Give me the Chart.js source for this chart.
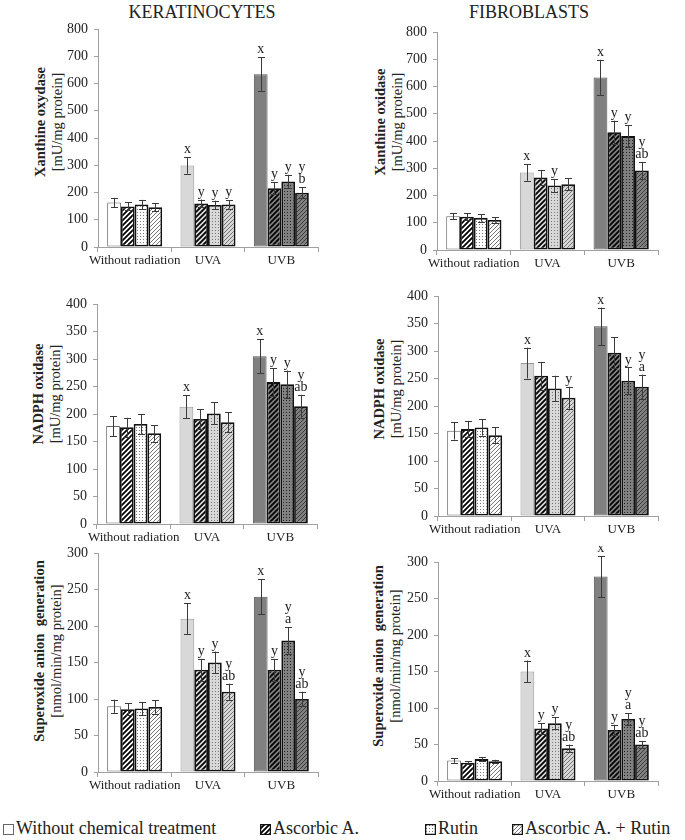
<!DOCTYPE html>
<html lang="en">
<head>
    <meta charset="UTF-8">
    <title>Oxidative enzymes - keratinocytes and fibroblasts</title>
    <script src="https://cdn.jsdelivr.net/npm/chart.js@4.4.1/dist/chart.umd.min.js"></script>
    <style>
        body { margin: 0; background: #fff; width: 685px; height: 840px; position: relative; overflow: hidden;
               font-family: "Liberation Serif", "Times New Roman", serif; color: #222; }
        canvas.panel { position: absolute; }
        .colTitle { position: absolute; top: 1px; font-size: 18px; line-height: 22px; transform: translateX(-50%); white-space: nowrap; }
        .yTitle { position: absolute; transform: translate(-50%, -50%) rotate(-90deg); text-align: center;
                  font-size: 14.5px; line-height: 17px; white-space: nowrap; }
        .yTitle b { display: block; }
        .legendItem { position: absolute; top: 818px; font-size: 18px; line-height: 20px; white-space: nowrap; }
        .legendItem canvas { vertical-align: -1px; margin-right: 2px; }
    </style>
</head>
<body>

    <div class="colTitle" style="left:202px">KERATINOCYTES</div>
    <div class="colTitle" style="left:529px">FIBROBLASTS</div>

    <div class="yTitle" style="left:49px; top:122px"><b>Xanthine oxydase</b>[mU/mg protein]</div>
    <div class="yTitle" style="left:389px; top:122px"><b>Xanthine oxidase</b>[mU/mg protein]</div>
    <div class="yTitle" style="left:47px; top:394px"><b>NADPH oxidase</b>[mU/mg protein]</div>
    <div class="yTitle" style="left:388px; top:389px"><b>NADPH oxidase</b>[mU/mg protein]</div>
    <div class="yTitle" style="left:48px; top:651px"><b>Superoxide anion&nbsp; generation</b>[nmol/min/mg protein]</div>
    <div class="yTitle" style="left:387px; top:656px"><b>Superoxide anion&nbsp; generation</b>[nmol/min/mg protein]</div>

    <canvas class="panel" id="keraXo"></canvas>
    <canvas class="panel" id="fibroXo"></canvas>
    <canvas class="panel" id="keraNadph"></canvas>
    <canvas class="panel" id="fibroNadph"></canvas>
    <canvas class="panel" id="keraSup"></canvas>
    <canvas class="panel" id="fibroSup"></canvas>

    <div id="legend"></div>

    <script>
        // categories and treatments
        const groups = ['Without radiation', 'UVA', 'UVB'];
        const treatments = ['Without chemical treatment', 'Ascorbic A.', 'Rutin', 'Ascorbic A. + Rutin'];

        // values: one row per treatment, one column per radiation group
        const keraXoMean = [[163, 299, 634], [149, 160, 216], [156, 154, 240], [146, 156, 199]];
        const keraXoErr  = [[17, 30, 63], [15, 14, 22], [17, 16, 25], [15, 15, 20]];
        const keraXoSig  = [['', 'x', 'x'], ['', 'y', 'y'], ['', 'y', 'y'], ['', 'y', 'y\nb']];

        const fibroXoMean = [[124, 284, 633], [122, 266, 432], [118, 237, 418], [110, 241, 292]];
        const fibroXoErr  = [[12, 30, 65], [12, 27, 43], [14, 24, 40], [10, 22, 30]];
        const fibroXoSig  = [['', 'x', 'x'], ['', '', 'y'], ['', 'y', 'y'], ['', '', 'y\nab']];

        const keraNadphMean = [[178, 213, 305], [176, 191, 258], [182, 201, 254], [165, 185, 214]];
        const keraNadphErr  = [[18, 21, 31], [17, 18, 25], [18, 20, 25], [15, 18, 21]];
        const keraNadphSig  = [['', 'x', 'x'], ['', '', 'y'], ['', '', 'y'], ['', '', 'y\nab']];

        const fibroNadphMean = [[155, 278, 345], [158, 255, 297], [161, 232, 246], [147, 215, 235]];
        const fibroNadphErr  = [[16, 28, 34], [15, 25, 28], [15, 23, 24], [14, 20, 22]];
        const fibroNadphSig  = [['', 'x', 'x'], ['', '', ''], ['', '', 'y'], ['', 'y', 'y\na']];

        const keraSupMean = [[90, 210, 240], [86, 140, 140], [87, 150, 180], [89, 110, 100]];
        const keraSupErr  = [[9, 21, 24], [8, 15, 15], [9, 15, 18], [9, 11, 10]];
        const keraSupSig  = [['', 'x', 'x'], ['', 'y', 'y'], ['', 'y', 'y\na'], ['', 'y\nab', 'y\nab']];

        const fibroSupMean = [[28, 150, 280], [25, 72, 70], [30, 79, 85], [27, 45, 50]];
        const fibroSupErr  = [[3, 15, 28], [2, 7, 7], [3, 8, 8], [2, 5, 5]];
        const fibroSupSig  = [['', 'x', 'x'], ['', 'y', 'y'], ['', 'y', 'y\na'], ['', 'y\nab', 'y\nab']];

        // axis ranges
        const xoTicks = { max: 800, step: 100 };
        const nadphTicks = { max: 400, step: 50 };
        const supTicks = { max: 300, step: 50 };

        const groupFill = ['#ffffff', '#d8d8d8', '#808080'];
        const serif = '"Liberation Serif", "Times New Roman", serif';

        // hatch / dot fills drawn on a small tile
        function makeTile(kind, bg, dark) {
            var s = kind === 'dots' ? 3 : (kind === 'bold' ? 5 : 4);
            var c = document.createElement('canvas');
            c.width = c.height = s;
            var g = c.getContext('2d');
            g.fillStyle = bg;
            g.fillRect(0, 0, s, s);
            if (kind === 'dots') {
                g.fillStyle = dark ? '#222' : '#777';
                g.fillRect(1, 1, 1, 1);
            } else {
                g.strokeStyle = kind === 'bold' ? '#000' : (dark ? '#333' : '#666');
                g.lineWidth = kind === 'bold' ? 1.8 : 0.9;
                g.beginPath();
                g.moveTo(-1, s + 1); g.lineTo(s + 1, -1);
                g.moveTo(-1, 1); g.lineTo(1, -1);
                g.moveTo(s - 1, s + 1); g.lineTo(s + 1, s - 1);
                g.stroke();
            }
            return c;
        }

        function fillFor(t, gi, ctx) {
            if (t === 0) return groupFill[gi];
            var kind = ['', 'bold', 'dots', 'thin'][t];
            return ctx.createPattern(makeTile(kind, groupFill[gi], gi === 2), 'repeat');
        }

        // error bars and significance letters
        function errorPlugin(errs, sigs) {
            return {
                id: 'errs',
                afterDatasetsDraw(chart) {
                    var ctx = chart.ctx, y = chart.scales.y;
                    ctx.save();
                    chart.data.datasets.forEach(function (ds, i) {
                        var meta = chart.getDatasetMeta(i);
                        meta.data.forEach(function (bar, j) {
                            var v = ds.data[j], e = errs[i][j];
                            var top = y.getPixelForValue(v + e), bot = y.getPixelForValue(v - e);
                            var x = Math.round(bar.x) + 0.5;
                            ctx.strokeStyle = '#3a3a3a';
                            ctx.lineWidth = 1;
                            ctx.beginPath();
                            ctx.moveTo(x, top); ctx.lineTo(x, bot);
                            ctx.moveTo(x - 3.5, Math.round(top) + 0.5); ctx.lineTo(x + 3.5, Math.round(top) + 0.5);
                            ctx.moveTo(x - 3.5, Math.round(bot) + 0.5); ctx.lineTo(x + 3.5, Math.round(bot) + 0.5);
                            ctx.stroke();
                            var lines = sigs[i][j] ? sigs[i][j].split('\n') : [];
                            ctx.fillStyle = '#222';
                            ctx.font = '14px ' + serif;
                            ctx.textAlign = 'center';
                            ctx.textBaseline = 'alphabetic';
                            for (var k = 0; k < lines.length; k++) {
                                var base = top - 4 - (lines.length - 1 - k) * 12;
                                ctx.fillText(lines[k], bar.x, base);
                            }
                        });
                    });
                    ctx.restore();
                }
            };
        }

        // axisX, xEnd, top of scale, zero line (page pixels)
        function makePanel(id, box, means, errs, sigs, range) {
            var el = document.getElementById(id);
            var left = box[0] - 58, top = box[2] - 16;
            var w = box[1] - left + 8, h = box[3] - top + 24;
            el.width = w; el.height = h;
            el.style.left = left + 'px'; el.style.top = top + 'px';
            var ctx = el.getContext('2d');

            var datasets = treatments.map(function (name, t) {
                return {
                    label: name,
                    data: means[t],
                    backgroundColor: groups.map(function (g, gi) { return fillFor(t, gi, ctx); }),
                    borderColor: t === 0 ? ['#666', '#999', '#555'] : '#111',
                    borderWidth: t === 0 ? 1 : 1.8,
                    borderSkipped: false,
                    categoryPercentage: 0.75,
                    barPercentage: 1
                };
            });

            new Chart(ctx, {
                type: 'bar',
                data: { labels: groups, datasets: datasets },
                options: {
                    responsive: false,
                    animation: false,
                    layout: { padding: { top: 16, right: 8, left: 0, bottom: 0 } },
                    plugins: { legend: { display: false }, tooltip: { enabled: false } },
                    scales: {
                        x: {
                            afterFit: function (s) { s.height = 24; },
                            grid: { drawOnChartArea: false, tickLength: 5, color: '#a0a0a0', offset: true },
                            border: { color: '#a0a0a0' },
                            ticks: { color: '#222', font: { family: serif, size: 13 }, padding: 1, maxRotation: 0, autoSkip: false }
                        },
                        y: {
                            min: 0, max: range.max,
                            afterFit: function (s) { s.width = 58; },
                            grid: { drawOnChartArea: false, tickLength: 4, color: '#a0a0a0' },
                            border: { color: '#a0a0a0' },
                            ticks: { stepSize: range.step, color: '#222', font: { family: serif, size: 14 }, padding: 6 }
                        }
                    }
                },
                plugins: [errorPlugin(errs, sigs)]
            });
        }

        makePanel('keraXo', [98, 318, 29, 247], keraXoMean, keraXoErr, keraXoSig, xoTicks);
        makePanel('fibroXo', [437, 658, 32, 250], fibroXoMean, fibroXoErr, fibroXoSig, xoTicks);
        makePanel('keraNadph', [97, 317, 304, 524], keraNadphMean, keraNadphErr, keraNadphSig, nadphTicks);
        makePanel('fibroNadph', [438, 658, 296, 516], fibroNadphMean, fibroNadphErr, fibroNadphSig, nadphTicks);
        makePanel('keraSup', [98, 318, 553, 772], keraSupMean, keraSupErr, keraSupSig, supTicks);
        makePanel('fibroSup', [438, 658, 562, 781], fibroSupMean, fibroSupErr, fibroSupSig, supTicks);

        // legend along the bottom
        var legendX = [3, 260, 425, 512];
        var legend = document.getElementById('legend');
        treatments.forEach(function (name, t) {
            var item = document.createElement('div');
            item.className = 'legendItem';
            item.style.left = legendX[t] + 'px';
            var sw = document.createElement('canvas');
            sw.width = 11; sw.height = 11;
            var g = sw.getContext('2d');
            g.fillStyle = fillFor(t, 0, g);
            g.fillRect(0, 0, 11, 11);
            g.strokeStyle = t === 0 ? '#666' : '#111';
            g.lineWidth = t === 0 ? 1 : 1.5;
            g.strokeRect(0.5, 0.5, 10, 10);
            item.appendChild(sw);
            item.appendChild(document.createTextNode(name));
            legend.appendChild(item);
        });
    </script>
</body>
</html>
